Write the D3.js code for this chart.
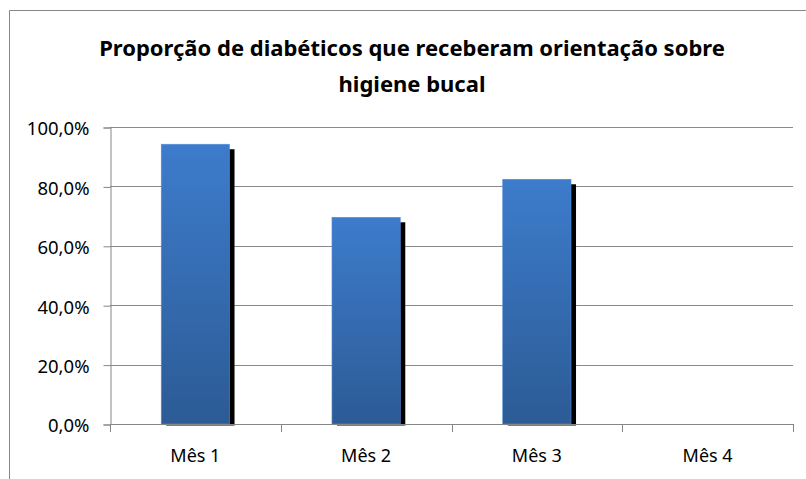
<!DOCTYPE html>
<html>
<head>
<meta charset="utf-8">
<title>Proporção de diabéticos</title>
<script src="https://d3js.org/d3.v7.min.js"></script>
<style>
  body { margin: 0; background: #fff; }
  svg text { font-family: "Noto Sans", "Open Sans", sans-serif; fill: #000; }
</style>
</head>
<body>
<div id="chart"></div>
<script>
    const meses = ["Mês 1", "Mês 2", "Mês 3", "Mês 4"];
    const proporcao = [0.942, 0.696, 0.824, 0];
    const yTicks = [0, 0.2, 0.4, 0.6, 0.8, 1.0];
    const titulo = ["Proporção de diabéticos que receberam orientação sobre", "higiene bucal"];

    const W = 806, H = 479;
    const plot = {left: 110, right: 793, top: 127, bottom: 424};

    const svg = d3.select("#chart").append("svg")
        .attr("width", W)
        .attr("height", H);

    // gradient for the bars
    const grad = svg.append("defs").append("linearGradient")
        .attr("id", "barGrad")
        .attr("x1", 0).attr("y1", 0).attr("x2", 0).attr("y2", 1);
    grad.append("stop").attr("offset", "0%").attr("stop-color", "#3d7ccc");
    grad.append("stop").attr("offset", "100%").attr("stop-color", "#2c5b95");

    svg.select("defs").append("filter")
        .attr("id", "blur")
        .append("feGaussianBlur").attr("stdDeviation", 0.6);

    // outer border (chart area is cropped on right and bottom)
    svg.append("path")
        .attr("d", "M9.5," + (H + 1) + "V10.5H" + (W + 1))
        .attr("fill", "none")
        .attr("stroke", "#868686");

    svg.append("text")
        .attr("text-anchor", "middle")
        .attr("font-weight", "bold")
        .attr("font-size", "22px")
        .selectAll("tspan")
        .data(titulo)
        .enter()
        .append("tspan")
        .attr("x", 412)
        .attr("y", function(d, i) { return 56 + i * 36; })
        .text(function(d) { return d; });

    const x = d3.scaleBand()
        .domain(meses)
        .range([plot.left, plot.right])
        .paddingInner(0.6)
        .paddingOuter(0.3);

    const xEdges = d3.scaleLinear()
        .domain([0, meses.length])
        .range([plot.left, plot.right]);

    const y = d3.scaleLinear()
        .domain([0, 1])
        .range([plot.bottom, plot.top]);

    const fmt = function(d) { return d3.format(".1f")(d * 100).replace(".", ",") + "%"; };

    // gridlines
    svg.append("g")
        .selectAll("line")
        .data(yTicks.filter(function(d) { return d > 0; }))
        .enter()
        .append("line")
        .attr("x1", plot.left)
        .attr("x2", plot.right)
        .attr("y1", function(d) { return Math.round(y(d)) + 0.5; })
        .attr("y2", function(d) { return Math.round(y(d)) + 0.5; })
        .attr("stroke", "#8a8a8a");

    // y axis
    const yAxis = d3.axisLeft(y)
        .tickValues(yTicks)
        .tickFormat(fmt)
        .tickSize(7)
        .tickPadding(14);

    const gy = svg.append("g")
        .attr("transform", "translate(" + (plot.left + 0.5) + ",0.5)")
        .call(yAxis);
    gy.select(".domain").attr("stroke", "#868686");
    gy.selectAll(".tick line").attr("stroke", "#868686");
    gy.selectAll(".tick text")
        .attr("font-size", "18.5px")
        .attr("font-family", null)
        .attr("dy", "0.4em")
        .attr("fill", "#000");

    // shadows
    const data = meses.map(function(m, i) { return {mes: m, v: proporcao[i]}; })
        .filter(function(d) { return d.v > 0; });

    svg.append("g")
        .selectAll("rect")
        .data(data)
        .enter()
        .append("rect")
        .attr("x", function(d) { return x(d.mes) + 5; })
        .attr("y", function(d) { return y(d.v) + 5; })
        .attr("width", x.bandwidth())
        .attr("height", function(d) { return plot.bottom + 1.5 - (y(d.v) + 5); })
        .attr("fill", "#000")
        .attr("filter", "url(#blur)");

    // bars
    svg.append("g")
        .selectAll("rect")
        .data(data)
        .enter()
        .append("rect")
        .attr("x", function(d) { return x(d.mes); })
        .attr("y", function(d) { return y(d.v); })
        .attr("width", x.bandwidth())
        .attr("height", function(d) { return plot.bottom - y(d.v); })
        .attr("fill", "url(#barGrad)")
        .attr("stroke", "#5a8fd6")
        .attr("stroke-width", 0.6);

    // x axis
    svg.append("line")
        .attr("x1", plot.left)
        .attr("x2", plot.right)
        .attr("y1", plot.bottom + 0.5)
        .attr("y2", plot.bottom + 0.5)
        .attr("stroke", "#868686");

    svg.append("g")
        .selectAll("line")
        .data(d3.range(meses.length + 1))
        .enter()
        .append("line")
        .attr("x1", function(d) { return Math.round(xEdges(d)) + 0.5; })
        .attr("x2", function(d) { return Math.round(xEdges(d)) + 0.5; })
        .attr("y1", plot.bottom)
        .attr("y2", plot.bottom + 8)
        .attr("stroke", "#868686");

    svg.append("g")
        .selectAll("text")
        .data(meses)
        .enter()
        .append("text")
        .attr("x", function(d) { return x(d) + x.bandwidth() / 2; })
        .attr("y", 462)
        .attr("text-anchor", "middle")
        .attr("font-size", "18px")
        .text(function(d) { return d; });
</script>
</body>
</html>
